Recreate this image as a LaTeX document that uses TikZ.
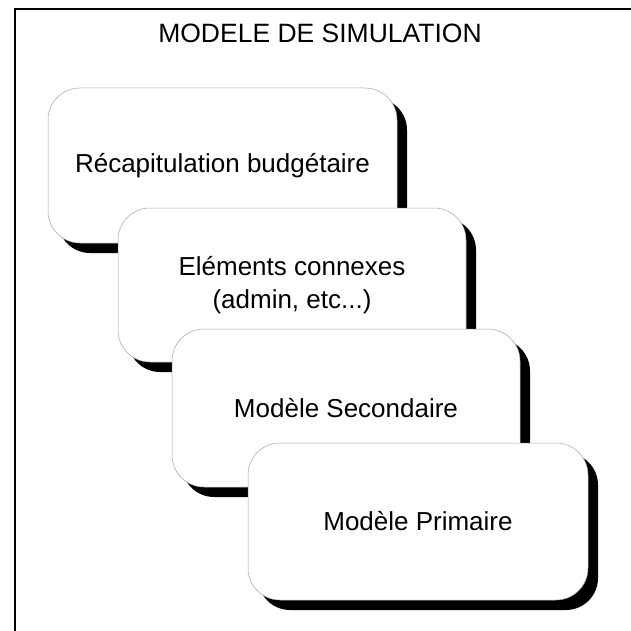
\documentclass[tikz,border=0pt]{standalone}
\usepackage{fontspec}
\setmainfont{Liberation Sans}
\usetikzlibrary{shadows}
\begin{document}
\begin{tikzpicture}[x=1pt,y=-1pt,
  card/.style={rounded corners=32pt, fill=white, draw=black!35, line width=0.5pt,
    inner sep=0pt, align=center, font=\fontsize{26}{33}\selectfont,
    drop shadow={shadow xshift=10pt, shadow yshift=-10pt, fill=black, opacity=1}},
  frameline/.style={line width=2.2pt, line cap=rect}]
\useasboundingbox (0,0) rectangle (631,631);
% outer frame: only its top and left edges fall on the page
\coordinate (fc) at (15,9);
\coordinate (ftop) at (631,9);
\coordinate (fbot) at (15,631);
\draw[frameline] (fbot) -- (fc) -- (ftop);
% heading
\node[anchor=base, font=\fontsize{26.5}{30}\selectfont] (title) at (320,43) {MODELE DE SIMULATION};
% stacked model layers, back to front
\node[card, minimum width=349pt, minimum height=155pt] (b1) at (222.5,165.5) {Récapitulation budgétaire};
\node[card, minimum width=348pt, minimum height=154pt] (b2) at (292,285) {Eléments connexes\\(admin, etc...)};
\node[card, minimum width=348pt, minimum height=158pt] (b3) at (346,408) {Modèle Secondaire};
\node[card, minimum width=340pt, minimum height=157pt] (b4) at (418,521.5) {Modèle Primaire};
\end{tikzpicture}
\end{document}
